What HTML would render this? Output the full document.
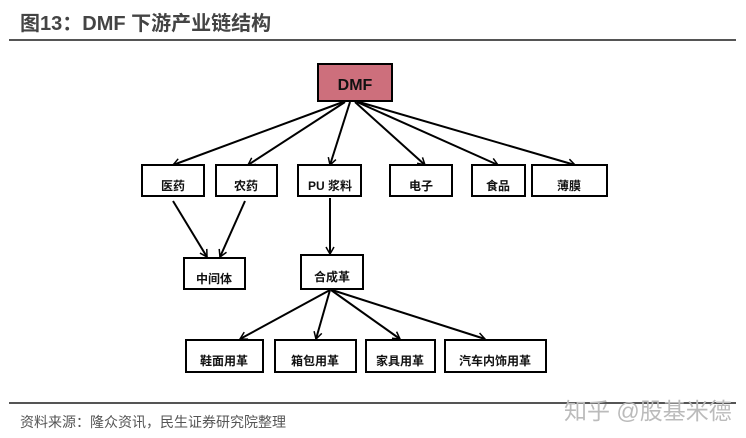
<!DOCTYPE html>
<html><head><meta charset="utf-8"><style>
body{margin:0;width:746px;height:438px;background:#fff;overflow:hidden;position:relative;font-family:"Liberation Sans","Noto Sans CJK SC",sans-serif}
.t{position:absolute;left:20px;top:7px;font-size:20px;font-weight:bold;color:#444}
.r{position:absolute;left:9px;width:727px;height:2px;background:#555}
.s{position:absolute;left:20px;top:412px;font-size:14px;color:#555}
.w{position:absolute;left:564px;top:392px;font-size:23px;color:#bbb}
</style></head><body>
<div class="t">图13：DMF 下游产业链结构</div>
<div class="r" style="top:39px"></div>
<div class="r" style="top:402px"></div>
<div class="s">资料来源：隆众资讯，民生证券研究院整理</div>
<div class="w">知乎 @股基米德</div>
<svg width="746" height="438" style="position:absolute;left:0;top:0" font-family="Liberation Sans, Noto Sans CJK SC, sans-serif" font-weight="bold" font-size="12">
<defs><marker id="a" markerWidth="10" markerHeight="10" refX="8" refY="5" orient="auto" markerUnits="userSpaceOnUse"><path d="M1,1 L8,5 L1,9" fill="none" stroke="#000" stroke-width="1.5"/></marker></defs>
<g stroke="#000" stroke-width="2" marker-end="url(#a)">
<line x1="343" y1="102" x2="173" y2="165"/>
<line x1="345" y1="102" x2="248" y2="165"/>
<line x1="350" y1="102" x2="330" y2="165"/>
<line x1="355" y1="102" x2="425" y2="165"/>
<line x1="357" y1="102" x2="498" y2="165"/>
<line x1="359" y1="102" x2="575" y2="165"/>
<line x1="173" y1="201" x2="207" y2="257"/>
<line x1="245" y1="201" x2="220" y2="257"/>
<line x1="330" y1="198" x2="330" y2="254"/>
<line x1="330" y1="290" x2="240" y2="339"/>
<line x1="330" y1="290" x2="316" y2="339"/>
<line x1="331" y1="290" x2="400" y2="339"/>
<line x1="332" y1="290" x2="485" y2="339"/>
</g>
<g stroke="#000" stroke-width="2" fill="#fff">
<rect x="318" y="64" width="74" height="37" fill="#cd6f7c"/>
<rect x="142" y="165" width="62" height="31"/>
<rect x="216" y="165" width="61" height="31"/>
<rect x="298" y="165" width="63" height="31"/>
<rect x="390" y="165" width="62" height="31"/>
<rect x="472" y="165" width="53" height="31"/>
<rect x="532" y="165" width="75" height="31"/>
<rect x="184" y="258" width="61" height="31"/>
<rect x="301" y="255" width="62" height="34"/>
<rect x="186" y="340" width="77" height="32"/>
<rect x="275" y="340" width="81" height="32"/>
<rect x="366" y="340" width="69" height="32"/>
<rect x="445" y="340" width="101" height="32"/>
</g>
<g text-anchor="middle" fill="#111">
<text x="355" y="90" font-size="16">DMF</text>
<text x="173" y="190">医药</text>
<text x="246" y="190">农药</text>
<text x="330" y="190">PU 浆料</text>
<text x="421" y="190">电子</text>
<text x="498" y="190">食品</text>
<text x="569" y="190">薄膜</text>
<text x="214" y="283">中间体</text>
<text x="332" y="281">合成革</text>
<text x="224" y="365">鞋面用革</text>
<text x="315" y="365">箱包用革</text>
<text x="400" y="365">家具用革</text>
<text x="495" y="365">汽车内饰用革</text>
</g>
</svg>
</body></html>
